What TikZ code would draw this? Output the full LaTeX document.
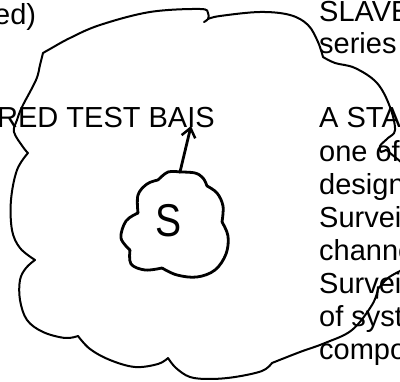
\documentclass[tikz,border=0pt]{standalone}
\usepackage{fontspec}
\setmainfont{Liberation Sans}
\usetikzlibrary{arrows.meta}
\begin{document}
\begin{tikzpicture}[x=1pt,y=-1pt,
  txt/.style={anchor=base west,inner sep=0pt,font=\fontsize{29}{33}\selectfont},
  bigcloud/.style={line width=2pt,line cap=round,line join=round},
  smallcloud/.style={line width=2.8pt,line cap=round,line join=round},
  bump/.style={smooth,tension=0.6}]
\useasboundingbox (0,0) rectangle (400,382);
\clip (0,0) rectangle (400,382);

% texts
\node[txt] (ed) at (-6,25) {ed)};
\node[txt] (slave) at (319,22) {SLAVE};
\node[txt] (series) at (319,54) {series};
\node[txt] (bais) at (-3,128) {RED TEST BAIS};
\node[txt] (asta) at (319,128) {A STA};
\node[txt] (oneof) at (319,162) {one of};
\node[txt] (design) at (319,195) {design};
\node[txt] (surv1) at (319,228) {Surveil};
\node[txt] (chann) at (319,261) {channe};
\node[txt] (surv2) at (319,294) {Surveil};
\node[txt] (ofsyst) at (319,327) {of syst};
\node[txt] (compo) at (319,360) {compo};

% large cloud, drawn bump by bump
\draw[bigcloud] plot[bump] coordinates {(402,270) (388,278) (378,289)};
\draw[bigcloud] (378,287) -- (377,298);
\draw[bigcloud] plot[bump] coordinates {(378,289) (372,305) (352,330) (325,343) (300,352) (272,363)};
\draw[bigcloud] plot[bump] coordinates {(272,363) (262,371) (235,377) (210,379) (190,377) (176,368) (168,358)};
\draw[bigcloud] plot[bump] coordinates {(168,358) (158,364) (135,367) (110,360) (90,349) (78,336)};
\draw[bigcloud] plot[bump] coordinates {(78,336) (65,338) (43,332) (27,320) (20,300) (20,280) (26,268) (35,260)};
\draw[bigcloud] plot[bump] coordinates {(35,260) (20,248) (12,230) (11,200) (17,170) (28,153)};
\draw[bigcloud] plot[bump] coordinates {(28,153) (23,147) (14,132) (17,120) (22,107) (36,80) (40,65) (43,53)};
\draw[bigcloud] plot[bump] coordinates {(43,53) (50,49) (70,38) (100,25) (150,12) (200,9) (208,13) (208,19) (204,22)};
\draw[bigcloud] plot[bump] coordinates {(208,19) (220,16) (260,12) (290,15) (308,25) (318,42) (323,57)};
\draw[bigcloud] plot[bump] coordinates {(323,57) (335,63) (355,68) (377,83) (390,107) (395,130) (388,138) (380,146) (381,152) (386,150) (390,153) (401,162)};

% small cloud around S
\draw[smallcloud] plot[bump] coordinates {(180,172) (195,173) (203,178) (207,186)};
\draw[smallcloud] plot[bump] coordinates {(207,186) (217,193) (223,206) (222,222)};
\draw[smallcloud] plot[bump] coordinates {(222,222) (228,236) (226,254) (215,270) (197,277) (177,275) (162,268)};
\draw[smallcloud] plot[bump] coordinates {(162,268) (145,270) (131,264) (130,250)};
\draw[smallcloud] plot[bump] coordinates {(130,250) (121,238) (126,221) (138,213)};
\draw[smallcloud] plot[bump] coordinates {(138,213) (138,195) (147,184) (158,180)};
\draw[smallcloud] plot[bump] coordinates {(158,180) (168,172) (180,172)};
\node[font=\fontsize{46}{46}\selectfont,inner sep=0pt,xscale=0.85] (s) at (169,221) {S};

% arrow from the small cloud up to the label
\coordinate (base) at (180,172);
\coordinate (tip) at (191,126);
\draw[smallcloud,-{Straight Barb[length=9pt,width=14pt,line width=2.5pt]}] (base) -- (tip);
\end{tikzpicture}
\end{document}
